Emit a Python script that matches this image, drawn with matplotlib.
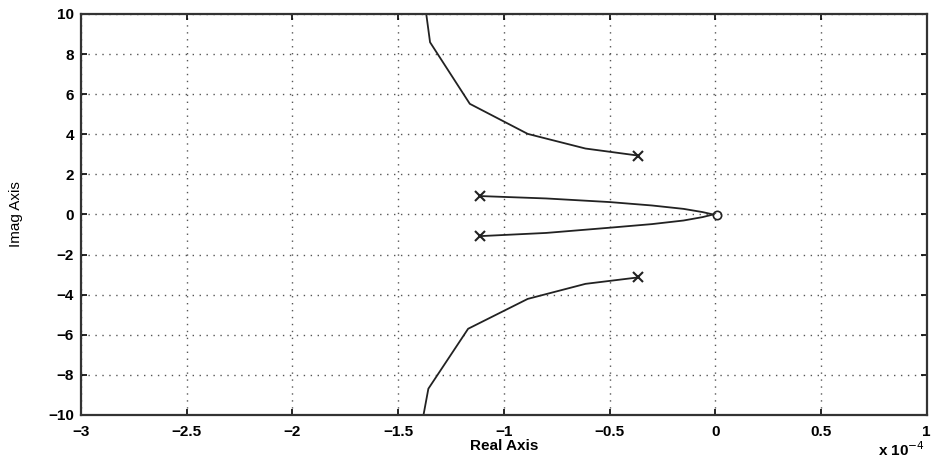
"""
Root locus (zoomed view near the origin), redrawn with matplotlib.
"""

import matplotlib.pyplot as plt
import numpy as np

# --- Data (real part in units of 1e-4) --------------------------------------

upper_re = [-0.366, -0.614, -0.887, -1.161, -1.349, -1.367, -1.37]
upper_im = [2.94, 3.29, 4.02, 5.52, 8.59, 10.0, 10.5]

lower_re = [-0.366, -0.614, -0.887, -1.169, -1.357, -1.38, -1.385]
lower_im = [-3.14, -3.46, -4.21, -5.70, -8.69, -10.0, -10.5]

inner_up_re = [-1.114, -0.8, -0.5, -0.3, -0.15, -0.06, -0.01]
inner_up_im = [0.92, 0.80, 0.62, 0.45, 0.28, 0.12, 0.0]

inner_lo_re = [-1.114, -0.8, -0.5, -0.3, -0.15, -0.06, -0.01]
inner_lo_im = [-1.08, -0.92, -0.66, -0.48, -0.30, -0.13, 0.0]

poles_re = [-0.366, -1.114, -1.114, -0.366]
poles_im = [2.94, 0.92, -1.08, -3.14]
zeros_re = [0.01]
zeros_im = [-0.05]

x_ticks = [-3, -2.5, -2, -1.5, -1, -0.5, 0, 0.5, 1]
y_ticks = [-10, -8, -6, -4, -2, 0, 2, 4, 6, 8, 10]

plt.rcParams["font.family"] = ["Liberation Sans", "DejaVu Sans"]

fig = plt.figure(figsize=(9.34, 4.59), dpi=100)
ax = fig.add_axes([0.0867, 0.0959, 0.9055, 0.8736])

for xs, ys in [(upper_re, upper_im), (lower_re, lower_im),
               (inner_up_re, inner_up_im), (inner_lo_re, inner_lo_im)]:
    ax.plot(xs, ys, color="#222222", lw=1.3)

ax.plot(poles_re, poles_im, "x", color="#222222", ms=7, mew=1.5)
ax.plot(zeros_re, zeros_im, "o", color="#222222", ms=6, mfc="none", mew=1.2)

ax.set_xlim(-3, 1)
ax.set_ylim(-10, 10)
ax.set_xticks(x_ticks)
ax.set_xticklabels(["\u22123", "\u22122.5", "\u22122", "\u22121.5", "\u22121",
                    "\u22120.5", "0", "0.5", "1"])
ax.set_yticks(y_ticks)
ax.set_yticklabels(["\u221210", "\u22128", "\u22126", "\u22124", "\u22122",
                    "0", "2", "4", "6", "8", "10"])
ax.grid(True, linestyle=(0, (1, 4)), color="#555555", lw=1.0)
ax.tick_params(direction="in", length=4, width=1.2, top=True, right=True,
               labelsize=11)
ax.tick_params(axis="x", pad=7)
ax.tick_params(axis="y", pad=5)
for lab in ax.get_xticklabels() + ax.get_yticklabels():
    lab.set_fontweight("bold")
for sp in ax.spines.values():
    sp.set_linewidth(1.6)
    sp.set_color("#333333")

ax.set_xlabel("Real Axis", fontsize=11, fontweight="bold", labelpad=0)
ax.set_ylabel("Imag Axis", fontsize=11, labelpad=18)
fig.text(0.94, 0.0, "x 10$^{-4}$", fontsize=11, fontweight="bold",
         ha="left", va="bottom")

fig.savefig("out.png", dpi=100)
